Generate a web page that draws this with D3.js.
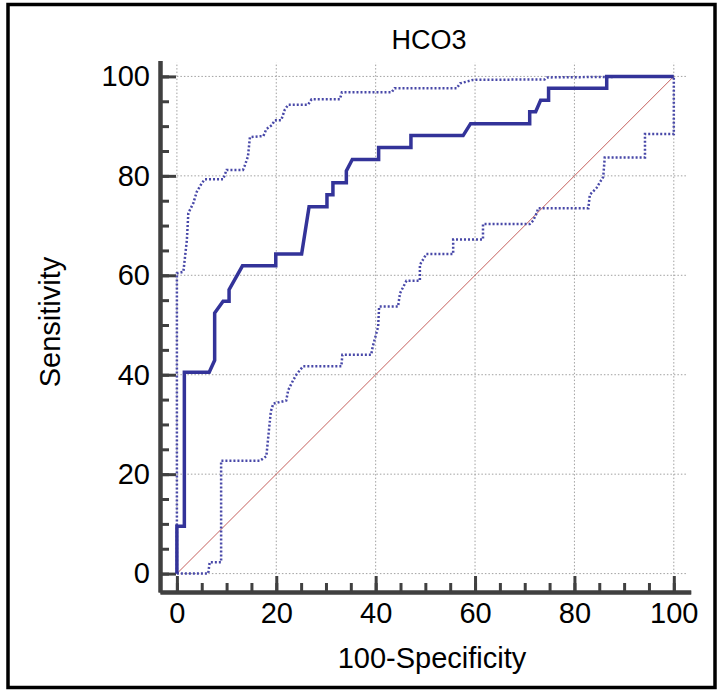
<!DOCTYPE html>
<html>
<head>
<meta charset="utf-8">
<script src="https://cdn.jsdelivr.net/npm/d3@7"></script>
<style>
  html,body{margin:0;padding:0;background:#fff;}
  svg text{font-family:"Liberation Sans",Arial,sans-serif;fill:#000;}
</style>
</head>
<body>
<svg id="chart" width="720" height="692"></svg>
<script>
/* ROC curve (100-Specificity vs Sensitivity) */
var rocX = [0,0,1.5,1.5,6.5,7.6,7.6,9.3,10.5,10.5,13.2,19.9,19.9,25.1,26.6,30.2,30.2,31.4,31.4,34.1,34.1,35.3,40.6,40.6,47.1,47.1,57.6,59.1,71.0,71.0,72.2,73.2,74.8,74.8,86.5,86.5,100];
var rocY = [0,9.5,9.5,40.5,40.5,42.9,52.4,54.8,54.8,57.1,61.9,61.9,64.3,64.3,73.8,73.8,76.2,76.2,78.6,78.6,81.0,83.3,83.3,85.7,85.7,88.1,88.1,90.5,90.5,92.9,92.9,95.2,95.2,97.6,97.6,100,100];

/* upper confidence bound */
var upX = [0,0,1.3,2.0,2.3,3.3,4.0,5.0,5.6,9.3,10.0,13.3,13.6,14.3,14.7,17.4,18.0,19.1,19.7,21.0,21.7,22.4,26.4,27.1,32.8,33.2,43.2,43.8,56.3,57.0,59.6,74.0,74.5,100];
var upY = [0,60.4,60.7,67.0,72.5,74.5,76.8,78.5,79.3,79.3,81.2,81.2,81.9,83.9,87.8,88.0,89.4,90.2,91.2,91.2,93.3,94.3,94.3,95.4,95.4,96.8,96.8,97.6,97.6,98.6,99.3,99.4,99.8,100];

/* lower confidence bound */
var loX = [0,6.3,6.6,8.9,8.9,16.7,18.0,18.9,19.4,22.0,22.4,23.4,24.1,25.4,33.1,33.3,39.1,39.4,40.5,40.7,44.5,44.9,46.2,48.9,48.9,50.2,55.6,55.6,61.6,61.6,71.0,71.7,72.4,72.7,82.8,83.1,84.4,85.8,86.1,94.2,94.2,100,100];
var loY = [0,0,2.3,2.3,22.7,22.7,23.6,32.6,34.2,34.8,36.9,38.9,40.1,41.7,41.7,44.0,44.0,45.6,49.7,53.7,53.7,56.4,58.9,58.9,62.1,64.3,64.3,67.2,67.2,70.3,70.3,71.0,72.5,73.5,73.5,76.2,77.5,79.8,83.7,83.7,88.4,88.4,100];

var majorTicks = [0,20,40,60,80,100];
var minorTicks = d3.range(0,101,5);

var svg = d3.select("#chart");

// outer frame
svg.append("rect")
  .attr("x",8).attr("y",4.5).attr("width",707).attr("height",683)
  .attr("fill","none").attr("stroke","#000").attr("stroke-width",3.5);

var x = d3.scaleLinear().domain([-3.4,103.4]).range([160,690.7]);
var y = d3.scaleLinear().domain([-3.7,103.2]).range([592,60.5]);

// grid
var grid = svg.append("g").attr("stroke","#a0a0a0").attr("stroke-width",1).attr("stroke-dasharray","1.5,2");
grid.selectAll(".gx").data(majorTicks).enter().append("line")
  .attr("x1",d=>x(d)).attr("x2",d=>x(d)).attr("y1",y(0)).attr("y2",y(102.8));
grid.selectAll(".gy").data(majorTicks).enter().append("line")
  .attr("y1",d=>y(d)).attr("y2",d=>y(d)).attr("x1",x(0)).attr("x2",x(102.6));

// axes
function styleAxis(g){
  g.select(".domain").attr("stroke","#404040").attr("stroke-width",4);
  g.selectAll(".tick line").attr("stroke","#404040").attr("stroke-width",3);
}
var xAxisMinor = svg.append("g").attr("transform","translate(0,592)")
  .call(d3.axisBottom(x).tickValues(minorTicks).tickSizeInner(-9).tickSizeOuter(0).tickFormat(""));
styleAxis(xAxisMinor);
var xAxis = svg.append("g").attr("transform","translate(0,592)")
  .call(d3.axisBottom(x).tickValues(majorTicks).tickSizeInner(-16).tickSizeOuter(0).tickPadding(10));
styleAxis(xAxis);
xAxis.selectAll("text").attr("font-size",29).attr("fill","#000");

var yAxisMinor = svg.append("g").attr("transform","translate(160,0)")
  .call(d3.axisLeft(y).tickValues(minorTicks).tickSizeInner(-9).tickSizeOuter(0).tickFormat(""));
styleAxis(yAxisMinor);
var yAxis = svg.append("g").attr("transform","translate(160,0)")
  .call(d3.axisLeft(y).tickValues(majorTicks).tickSizeInner(-16).tickSizeOuter(0).tickPadding(10));
styleAxis(yAxis);
yAxis.selectAll("text").attr("font-size",29).attr("fill","#000");

// diagonal reference
svg.append("line")
  .attr("x1",x(0)).attr("y1",y(0)).attr("x2",x(100)).attr("y2",y(100))
  .attr("stroke","#c0504d").attr("stroke-width",1).attr("opacity",0.9);

var line = d3.line().x(d=>x(d[0])).y(d=>y(d[1]));
function pts(a,b){ return a.map((v,i)=>[v,b[i]]); }

svg.append("path").datum(pts(upX,upY)).attr("d",line)
  .attr("fill","none").attr("stroke","#4848a8").attr("stroke-width",2.5).attr("stroke-dasharray","2,2");
svg.append("path").datum(pts(loX,loY)).attr("d",line)
  .attr("fill","none").attr("stroke","#4848a8").attr("stroke-width",2.5).attr("stroke-dasharray","2,2");
svg.append("path").datum(pts(rocX,rocY)).attr("d",line)
  .attr("fill","none").attr("stroke","#333399").attr("stroke-width",3.5).attr("stroke-linejoin","miter");

// titles
svg.append("text").attr("x",429).attr("y",49).attr("text-anchor","middle").attr("font-size",27).text("HCO3");
svg.append("text").attr("x",432).attr("y",668).attr("text-anchor","middle").attr("font-size",29).text("100-Specificity");
svg.append("text").attr("transform","translate(60,322) rotate(-90)").attr("text-anchor","middle").attr("font-size",29).text("Sensitivity");
</script>
</body>
</html>
